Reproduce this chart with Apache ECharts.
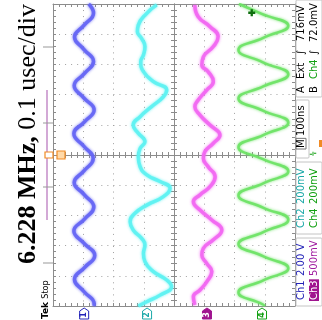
<!DOCTYPE html>
<html>
<head>
<meta charset="utf-8">
<script src="https://cdn.jsdelivr.net/npm/echarts@6/dist/echarts.min.js"></script>
<style>
html, body { margin: 0; padding: 0; background: #fff; }
#chart { width: 322px; height: 320px; }
</style>
</head>
<body>
<div id="chart"></div>
<script>
// scope screen turned on its side: time runs up the page (ns, 0.1 usec/div,
// trigger at 0), trace position is in divisions from the centre line
var ch1T = [500, 470, 430, 391, 350, 310, 270, 230, 190, 149, 110, 70, 29, -12, -52, -91, -131, -172, -212, -252, -292, -333, -372, -412, -452, -493, -500];
var ch1X = [-2.82, -2.66, -2.97, -3.29, -2.98, -2.66, -2.96, -3.30, -2.99, -2.64, -2.96, -3.31, -2.98, -2.67, -2.97, -3.30, -2.97, -2.65, -2.96, -3.31, -2.98, -2.62, -2.95, -3.29, -2.98, -2.64, -2.65];

var ch2T = [497, 469, 430, 408, 386, 359, 331, 309, 276, 243, 215, 193, 160, 127, 99, 72, 44, 22, -6, -39, -66, -88, -110, -138, -166, -193, -221, -248, -276, -298, -326, -353, -386, -414, -436, -464, -486, -500];
var ch2X = [-0.57, -0.90, -1.18, -1.21, -1.07, -0.96, -1.01, -1.10, -1.01, -0.68, -0.24, -0.35, -0.74, -1.12, -1.35, -1.18, -0.96, -1.12, -1.18, -1.12, -0.90, -0.46, -0.13, -0.35, -0.90, -1.29, -1.45, -1.35, -1.07, -0.96, -1.01, -0.96, -0.68, -0.24, -0.08, -0.46, -0.90, -1.18];

var ch3T = [497, 458, 425, 392, 359, 325, 298, 276, 243, 215, 182, 160, 132, 99, 66, 39, 11, -11, -39, -72, -105, -132, -155, -182, -215, -248, -281, -309, -331, -359, -386, -420, -447, -469, -497];
var ch3X = [0.69, 0.80, 1.19, 1.46, 1.30, 0.97, 0.92, 1.13, 1.30, 1.08, 0.80, 0.69, 0.86, 1.19, 1.52, 1.30, 1.02, 0.97, 1.13, 1.36, 1.19, 0.86, 0.64, 0.86, 1.25, 1.58, 1.30, 0.97, 0.92, 1.08, 1.25, 1.08, 0.86, 0.64, 0.69];

var ch4T = [500, 467, 428, 388, 348, 307, 267, 227, 187, 147, 107, 66, 26, -14, -54, -94, -134, -174, -214, -255, -295, -335, -375, -415, -455, -495, -500];
var ch4X = [2.15, 2.90, 3.78, 2.95, 2.13, 2.94, 3.78, 2.95, 2.13, 2.94, 3.78, 2.95, 2.13, 2.94, 3.78, 2.95, 2.13, 2.94, 3.78, 2.95, 2.13, 2.94, 3.78, 2.95, 2.13, 2.94, 3.00];

var groundLevels = [-2.97, -0.89, 1.09, 2.91];
var chLabels = ['1', '2', '3', '4'];
var traceColors = ['#6464f4', '#5cf2f2', '#f266f2', '#6ce264'];
var textColors = ['#2424b8', '#1aa8a8', '#a01ea0', '#12a012'];
var trigMark = [2.57, 471];

var gridColor = '#8c8c8c';

function pairs(t, x) {
    return t.map(function (v, i) { return [x[i], v]; });
}

function xAx(pos, onZero, inside, split) {
    return {
        type: 'value', min: -4, max: 4, interval: 1, position: pos,
        axisLine: { show: true, onZero: onZero, onZeroAxisIndex: 0, lineStyle: { color: gridColor } },
        axisTick: { show: true, inside: inside, length: 3, lineStyle: { color: gridColor } },
        minorTick: { show: true, splitNumber: 5, length: 3, lineStyle: { color: gridColor } },
        axisLabel: { show: false },
        splitLine: { show: split, lineStyle: { color: '#a0a0a0', type: [1, 5.05] } }
    };
}
function yAx(pos, onZero, inside, split) {
    return {
        type: 'value', min: -500, max: 500, interval: 100, position: pos,
        axisLine: { show: true, onZero: onZero, onZeroAxisIndex: 0, lineStyle: { color: gridColor } },
        axisTick: { show: true, inside: inside, length: 3, lineStyle: { color: gridColor } },
        minorTick: { show: true, splitNumber: 5, length: 3, lineStyle: { color: gridColor } },
        axisLabel: { show: false },
        splitLine: { show: split, lineStyle: { color: '#a0a0a0', type: [1, 5.04] } }
    };
}

function trace(data, i, w) {
    return {
        type: 'line', data: data, showSymbol: false, smooth: 0.5, silent: true, z: 3,
        lineStyle: { color: traceColors[i], width: w, opacity: 0.9, shadowBlur: 3, shadowColor: traceColors[i] }
    };
}

var myChart = echarts.init(document.getElementById('chart'));
var option = {
    animation: false,
    backgroundColor: '#fff',
    grid: { left: 53, top: 4, width: 242, height: 302 },
    xAxis: [xAx('bottom', false, true, true), xAx('top', false, true, false),
            xAx('bottom', true, true, false), xAx('bottom', true, false, false)],
    yAxis: [yAx('left', false, true, true), yAx('right', false, true, false),
            yAx('left', true, true, false), yAx('left', true, false, false)],
    series: [
        trace(pairs(ch1T, ch1X), 0, 3.5),
        trace(pairs(ch2T, ch2X), 1, 3.5),
        trace(pairs(ch3T, ch3X), 2, 3.5),
        (function () {
            var s = trace(pairs(ch4T, ch4X), 3, 2.5);
            s.markPoint = {
                symbol: 'path://M2,0H4V2H6V4H4V6H2V4H0V2H2Z', symbolSize: 7,
                itemStyle: { color: '#0e6e0e' }, label: { show: false },
                data: [{ coord: trigMark }]
            };
            return s;
        })()
    ]
};
myChart.setOption(option, true);

// screen furniture round the graticule
var R = Math.PI / 2;
function vtext(x, y, str, color, size, extra) {
    var st = { text: str, fill: color, fontFamily: 'DejaVu Sans', fontSize: size || 10,
               align: 'left', verticalAlign: 'middle' };
    for (var k in extra) st[k] = extra[k];
    return { type: 'text', x: x, y: y, rotation: R, z: 10, style: st };
}
var g = [];
g.push({
    type: 'text', x: 28, y: 264, rotation: R, z: 10,
    style: {
        text: '{b|6.228 MHz,}{r| 0.1 usec/div}', align: 'left', verticalAlign: 'middle',
        rich: {
            b: { fontFamily: 'Liberation Serif', fontWeight: 'bold', fontSize: 26, fill: '#000' },
            r: { fontFamily: 'Liberation Serif', fontSize: 26, fill: '#000' }
        }
    }
});
g.push({
    type: 'text', x: 46, y: 319, rotation: R, z: 10,
    style: {
        text: '{t|Tek} {s|Stop}', align: 'left', verticalAlign: 'middle',
        rich: {
            t: { fontFamily: 'DejaVu Sans', fontWeight: 'bold', fontSize: 9, fill: '#000' },
            s: { fontFamily: 'DejaVu Sans', fontSize: 8, fill: '#000' }
        }
    }
});
// record view bar
g.push({ type: 'line', shape: { x1: 47, y1: 90, x2: 47, y2: 220 }, style: { stroke: '#c48cc8', lineWidth: 1.5 } });
[47, 123, 187, 263].forEach(function (y) {
    g.push({ type: 'line', shape: { x1: 43, y1: y, x2: 53, y2: y }, style: { stroke: '#999', lineWidth: 1 } });
});
// trigger position marker
var tp = myChart.convertToPixel({ gridIndex: 0 }, [-4, 0]);
g.push({ type: 'rect', shape: { x: 45, y: tp[1] - 3, width: 8, height: 6 }, style: { fill: '#fff', stroke: '#f08a24', lineWidth: 1.2 }, z: 10 });
g.push({ type: 'rect', shape: { x: 57, y: tp[1] - 4, width: 8, height: 8 }, style: { fill: '#ffd9a8', stroke: '#f08a24', lineWidth: 1.2 }, z: 10 });
g.push({ type: 'rect', shape: { x: 319, y: 140, width: 3, height: 7 }, style: { fill: '#f08a24' }, z: 10 });

// channel ground markers
groundLevels.forEach(function (v, i) {
    var p = myChart.convertToPixel({ gridIndex: 0 }, [v, -500]);
    var cx = p[0], ty = p[1] + 2;
    var filled = i === 2;
    g.push({
        type: 'polygon', z: 10,
        shape: { points: [[cx, ty], [cx + 4.5, ty + 3], [cx + 4.5, ty + 11], [cx - 4.5, ty + 11], [cx - 4.5, ty + 3]] },
        style: { fill: filled ? '#a0148f' : '#fff', stroke: filled ? '#a0148f' : textColors[i], lineWidth: 1 }
    });
    g.push({
        type: 'text', x: cx, y: ty + 7, rotation: R, z: 11,
        style: { text: chLabels[i], fill: filled ? '#fff' : textColors[i], fontFamily: 'DejaVu Sans',
                 fontWeight: 'bold', fontSize: 8, align: 'center', verticalAlign: 'middle' }
    });
});

// readout panel on the right
[[296, 238, 26, 68], [296, 162, 26, 72], [296, 100, 13, 58], [296, 0, 26, 97]].forEach(function (b) {
    g.push({ type: 'rect', shape: { x: b[0], y: b[1], width: b[2], height: b[3], r: 1 }, style: { fill: '#fff', stroke: '#c4c4c4', lineWidth: 1 }, z: 9 });
});
g.push(vtext(301, 300, 'Ch1', textColors[0]));
g.push(vtext(301, 276, '2.00 V', textColors[0]));
g.push(vtext(314, 301, 'Ch3', '#fff', 10, { backgroundColor: '#a0148f', padding: [0, 1] }));
g.push(vtext(314, 276, '500mV', textColors[2]));
g.push(vtext(301, 228, 'Ch2', textColors[1]));
g.push(vtext(301, 204, '200mV', textColors[1]));
g.push(vtext(314, 228, 'Ch4', textColors[3]));
g.push(vtext(314, 204, '200mV', textColors[3]));
g.push(vtext(301, 149, 'M', '#000', 10, { borderColor: '#777', borderWidth: 1, padding: [0, 1] }));
g.push(vtext(301, 136, '100ns', '#000'));
g.push(vtext(314, 156, '\u2AE9', textColors[3], 8));
g.push(vtext(301, 93, 'A', '#000'));
g.push(vtext(301, 79, 'Ext', '#000'));
g.push(vtext(301, 55, '\u222B', '#000'));
g.push(vtext(301, 41, '716mV', '#000'));
g.push(vtext(314, 93, 'B', '#000'));
g.push(vtext(314, 79, 'Ch4', textColors[3]));
g.push(vtext(314, 55, '\u222B', '#000'));
g.push(vtext(314, 42, '72.0mV', '#000'));

myChart.setOption({ graphic: g });
</script>
</body>
</html>
